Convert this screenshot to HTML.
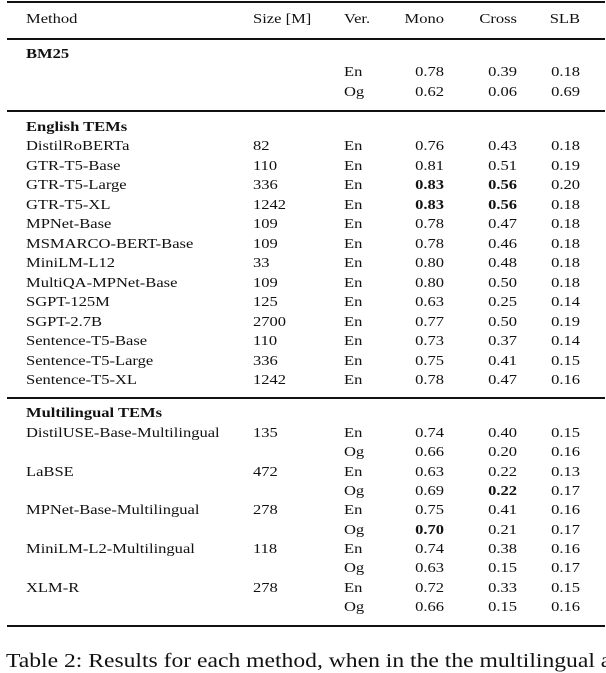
<!DOCTYPE html>
<html><head><meta charset="utf-8">
<style>
body{margin:0;width:606px;height:662px;overflow:hidden;background:#fff;font-family:"Liberation Serif",serif;color:#111;position:relative}
.t{position:absolute;font-size:14px;line-height:16px;white-space:nowrap;transform:scaleX(1.18);transform-origin:left center}
.r{text-align:right;transform-origin:right center}
.b{font-weight:bold}
.rule{position:absolute;left:7px;width:598px;background:#111}
</style></head><body>
<div class="rule" style="top:1px;height:2px"></div>
<div class="rule" style="top:38px;height:1.5px"></div>
<div class="rule" style="top:110px;height:1.5px"></div>
<div class="rule" style="top:397px;height:1.5px"></div>
<div class="rule" style="top:625px;height:2px"></div>
<div id="tbl"></div>
<div class="t" style="left:6px;top:649px;font-size:20px;line-height:24px">Table 2: Results for each method, when in the the multilingual and</div>
<script>
const rows=[
["h","Method","Size [M]","Ver.","Mono","Cross","SLB",20],
["s","BM25","","","","","",55],
["r","","","En","0.78","0.39","0.18",73],
["r","","","Og","0.62","0.06","0.69",93],
["s","English TEMs","","","","","",128],
["r","DistilRoBERTa","82","En","0.76","0.43","0.18",147],
["r","GTR-T5-Base","110","En","0.81","0.51","0.19",166.5],
["r","GTR-T5-Large","336","En","*0.83","*0.56","0.20",186],
["r","GTR-T5-XL","1242","En","*0.83","*0.56","0.18",205.5],
["r","MPNet-Base","109","En","0.78","0.47","0.18",225],
["r","MSMARCO-BERT-Base","109","En","0.78","0.46","0.18",244.5],
["r","MiniLM-L12","33","En","0.80","0.48","0.18",264],
["r","MultiQA-MPNet-Base","109","En","0.80","0.50","0.18",283.5],
["r","SGPT-125M","125","En","0.63","0.25","0.14",303],
["r","SGPT-2.7B","2700","En","0.77","0.50","0.19",322.5],
["r","Sentence-T5-Base","110","En","0.73","0.37","0.14",342],
["r","Sentence-T5-Large","336","En","0.75","0.41","0.15",361.5],
["r","Sentence-T5-XL","1242","En","0.78","0.47","0.16",381],
["s","Multilingual TEMs","","","","","",414],
["r","DistilUSE-Base-Multilingual","135","En","0.74","0.40","0.15",434],
["r","","","Og","0.66","0.20","0.16",453.3],
["r","LaBSE","472","En","0.63","0.22","0.13",472.7],
["r","","","Og","0.69","*0.22","0.17",492],
["r","MPNet-Base-Multilingual","278","En","0.75","0.41","0.16",511.3],
["r","","","Og","*0.70","0.21","0.17",530.7],
["r","MiniLM-L2-Multilingual","118","En","0.74","0.38","0.16",550],
["r","","","Og","0.63","0.15","0.17",569.3],
["r","XLM-R","278","En","0.72","0.33","0.15",588.7],
["r","","","Og","0.66","0.15","0.16",608]
];
const tbl=document.getElementById('tbl');
function cell(txt,x,y,right,cls,name){
  if(!txt)return;
  const d=document.createElement('div');
  d.className='t'+(right?' r':'');
  let bold=false;
  if(txt[0]==='*'){bold=true;txt=txt.slice(1);}
  if(bold||cls)d.classList.add('b');
  d.textContent=txt;
  d.style.top=(y-8)+'px';
  if(right){d.style.left=(x-80)+'px';d.style.width='80px';}else d.style.left=x+'px';
  
  
  tbl.appendChild(d);
}
rows.forEach(r=>{
  const [k,m,s,v,mo,cr,sl,y]=r;
  if(k==='h'){
    cell(m,26,y,false,0,'header-method');
    cell(s,253,y,false,0,'header-size');
    cell(v,344,y,false,0,'header-ver');
    cell(mo,444,y,true,0,'header-mono');
    cell(cr,517,y,true,0,'header-cross');
    cell(sl,580,y,true,0,'header-slb');
  }else if(k==='s'){
    cell(m,26,y,false,1,'section-title');
  }else{
    cell(m,26,y,false,0,'method-name');
    cell(s,253,y,false,0,'size-value');
    cell(v,344,y,false,0,'version');
    cell(mo,444,y,true,0,'mono-score');
    cell(cr,517,y,true,0,'cross-score');
    cell(sl,580,y,true,0,'slb-score');
  }
});
</script>
</body></html>
